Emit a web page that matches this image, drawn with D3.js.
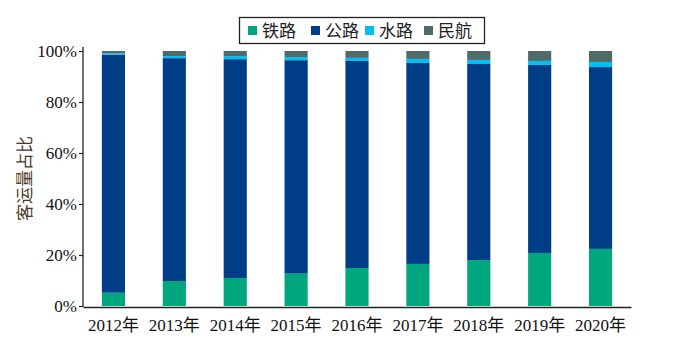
<!DOCTYPE html>
<html>
<head>
<meta charset="utf-8">
<script src="https://cdn.jsdelivr.net/npm/d3@7"></script>
<style>
  html, body { margin: 0; padding: 0; background: #fff; }
  svg { display: block; }
</style>
</head>
<body>
<svg id="chart" width="693" height="345"></svg>
<script>
// Passenger traffic share by transport mode (%)
const years = ["2012年", "2013年", "2014年", "2015年", "2016年", "2017年", "2018年", "2019年", "2020年"];
const seriesNames = ["铁路", "公路", "水路", "民航"];
const rail  = [5.2, 9.8, 11.0, 12.7, 14.9, 16.5, 18.0, 20.8, 22.4];
const water = [0.5, 0.8, 1.2, 1.2, 1.2, 1.6, 1.6, 1.6, 2.0];
const air   = [0.9, 2.0, 2.0, 2.4, 2.7, 3.1, 3.5, 3.9, 4.3];
const road  = years.map((_, i) => +(100 - rail[i] - water[i] - air[i]).toFixed(1));
const yTicks = [0, 20, 40, 60, 80, 100];
const colors = ["#00a67e", "#003d87", "#00bff3", "#4e6b6a"];

const rows = years.map((y, i) => ({ year: y, "铁路": rail[i], "公路": road[i], "水路": water[i], "民航": air[i] }));

const svg = d3.select("#chart");
const margin = { left: 83, right: 62, top: 51, bottom: 39 };
const W = 693, H = 345;

const x = d3.scaleBand().domain(years).range([margin.left, W - margin.right]).paddingInner(0.62).paddingOuter(0.31);
const y = d3.scaleLinear().domain([0, 100]).range([H - margin.bottom, margin.top]);
const color = d3.scaleOrdinal().domain(seriesNames).range(colors);

const stacked = d3.stack().keys(seriesNames)(rows);

svg.append("g").selectAll("g")
  .data(stacked).join("g")
  .attr("fill", d => color(d.key))
  .selectAll("rect")
  .data(d => d).join("rect")
  .attr("x", d => x(d.data.year))
  .attr("width", x.bandwidth())
  .attr("y", d => y(d[1]))
  .attr("height", d => y(d[0]) - y(d[1]));

const serif = "'Liberation Serif', 'Times New Roman', 'Noto Sans CJK SC', serif";

// Y axis
const yAxis = svg.append("g")
  .attr("transform", `translate(${margin.left},0)`)
  .call(d3.axisLeft(y).tickValues(yTicks).tickFormat(d => d + "%").tickSize(4).tickSizeOuter(0));
yAxis.select(".domain").attr("stroke", "#222").attr("stroke-width", 1.3)
  .attr("d", `M0,${y(100) - 4}V${H - margin.bottom + 1}`);
yAxis.selectAll(".tick line").attr("stroke", "#222").attr("stroke-width", 1.2);
yAxis.selectAll(".tick text").attr("font-family", serif).attr("font-size", 17).attr("fill", "#111").attr("x", -6);

// X axis
const xAxis = svg.append("g")
  .attr("transform", `translate(0,${H - margin.bottom + 1})`)
  .call(d3.axisBottom(x).tickSize(0).tickSizeOuter(0));
xAxis.select(".domain").attr("stroke", "#222").attr("stroke-width", 1.3);
xAxis.selectAll(".tick text").attr("font-family", serif).attr("font-size", 17).attr("fill", "#111").attr("dy", "1.25em");

// Y axis title
svg.append("text")
  .attr("transform", `translate(31,${(y(0) + y(100)) / 2}) rotate(-90)`)
  .attr("text-anchor", "middle")
  .attr("font-family", "'Noto Sans CJK SC', sans-serif")
  .attr("font-size", 17)
  .attr("fill", "#4a3828")
  .text("客运量占比");

// Legend
const legend = svg.append("g");
legend.append("rect")
  .attr("x", 239.5).attr("y", 17.5).attr("width", 245).attr("height", 26)
  .attr("fill", "#fff").attr("stroke", "#222").attr("stroke-width", 1.3);
const legX = [248, 311, 365, 424];
const items = legend.selectAll("g.item").data(seriesNames).join("g").attr("class", "item")
  .attr("transform", (d, i) => `translate(${legX[i]},30.5)`);
items.append("rect").attr("x", 0).attr("y", -4.5).attr("width", 9).attr("height", 9).attr("fill", d => color(d));
items.append("text").attr("x", 14).attr("y", 0).attr("dy", "0.36em")
  .attr("font-family", "'Noto Sans CJK SC', sans-serif").attr("font-size", 17).attr("fill", "#222")
  .text(d => d);
</script>
</body>
</html>
